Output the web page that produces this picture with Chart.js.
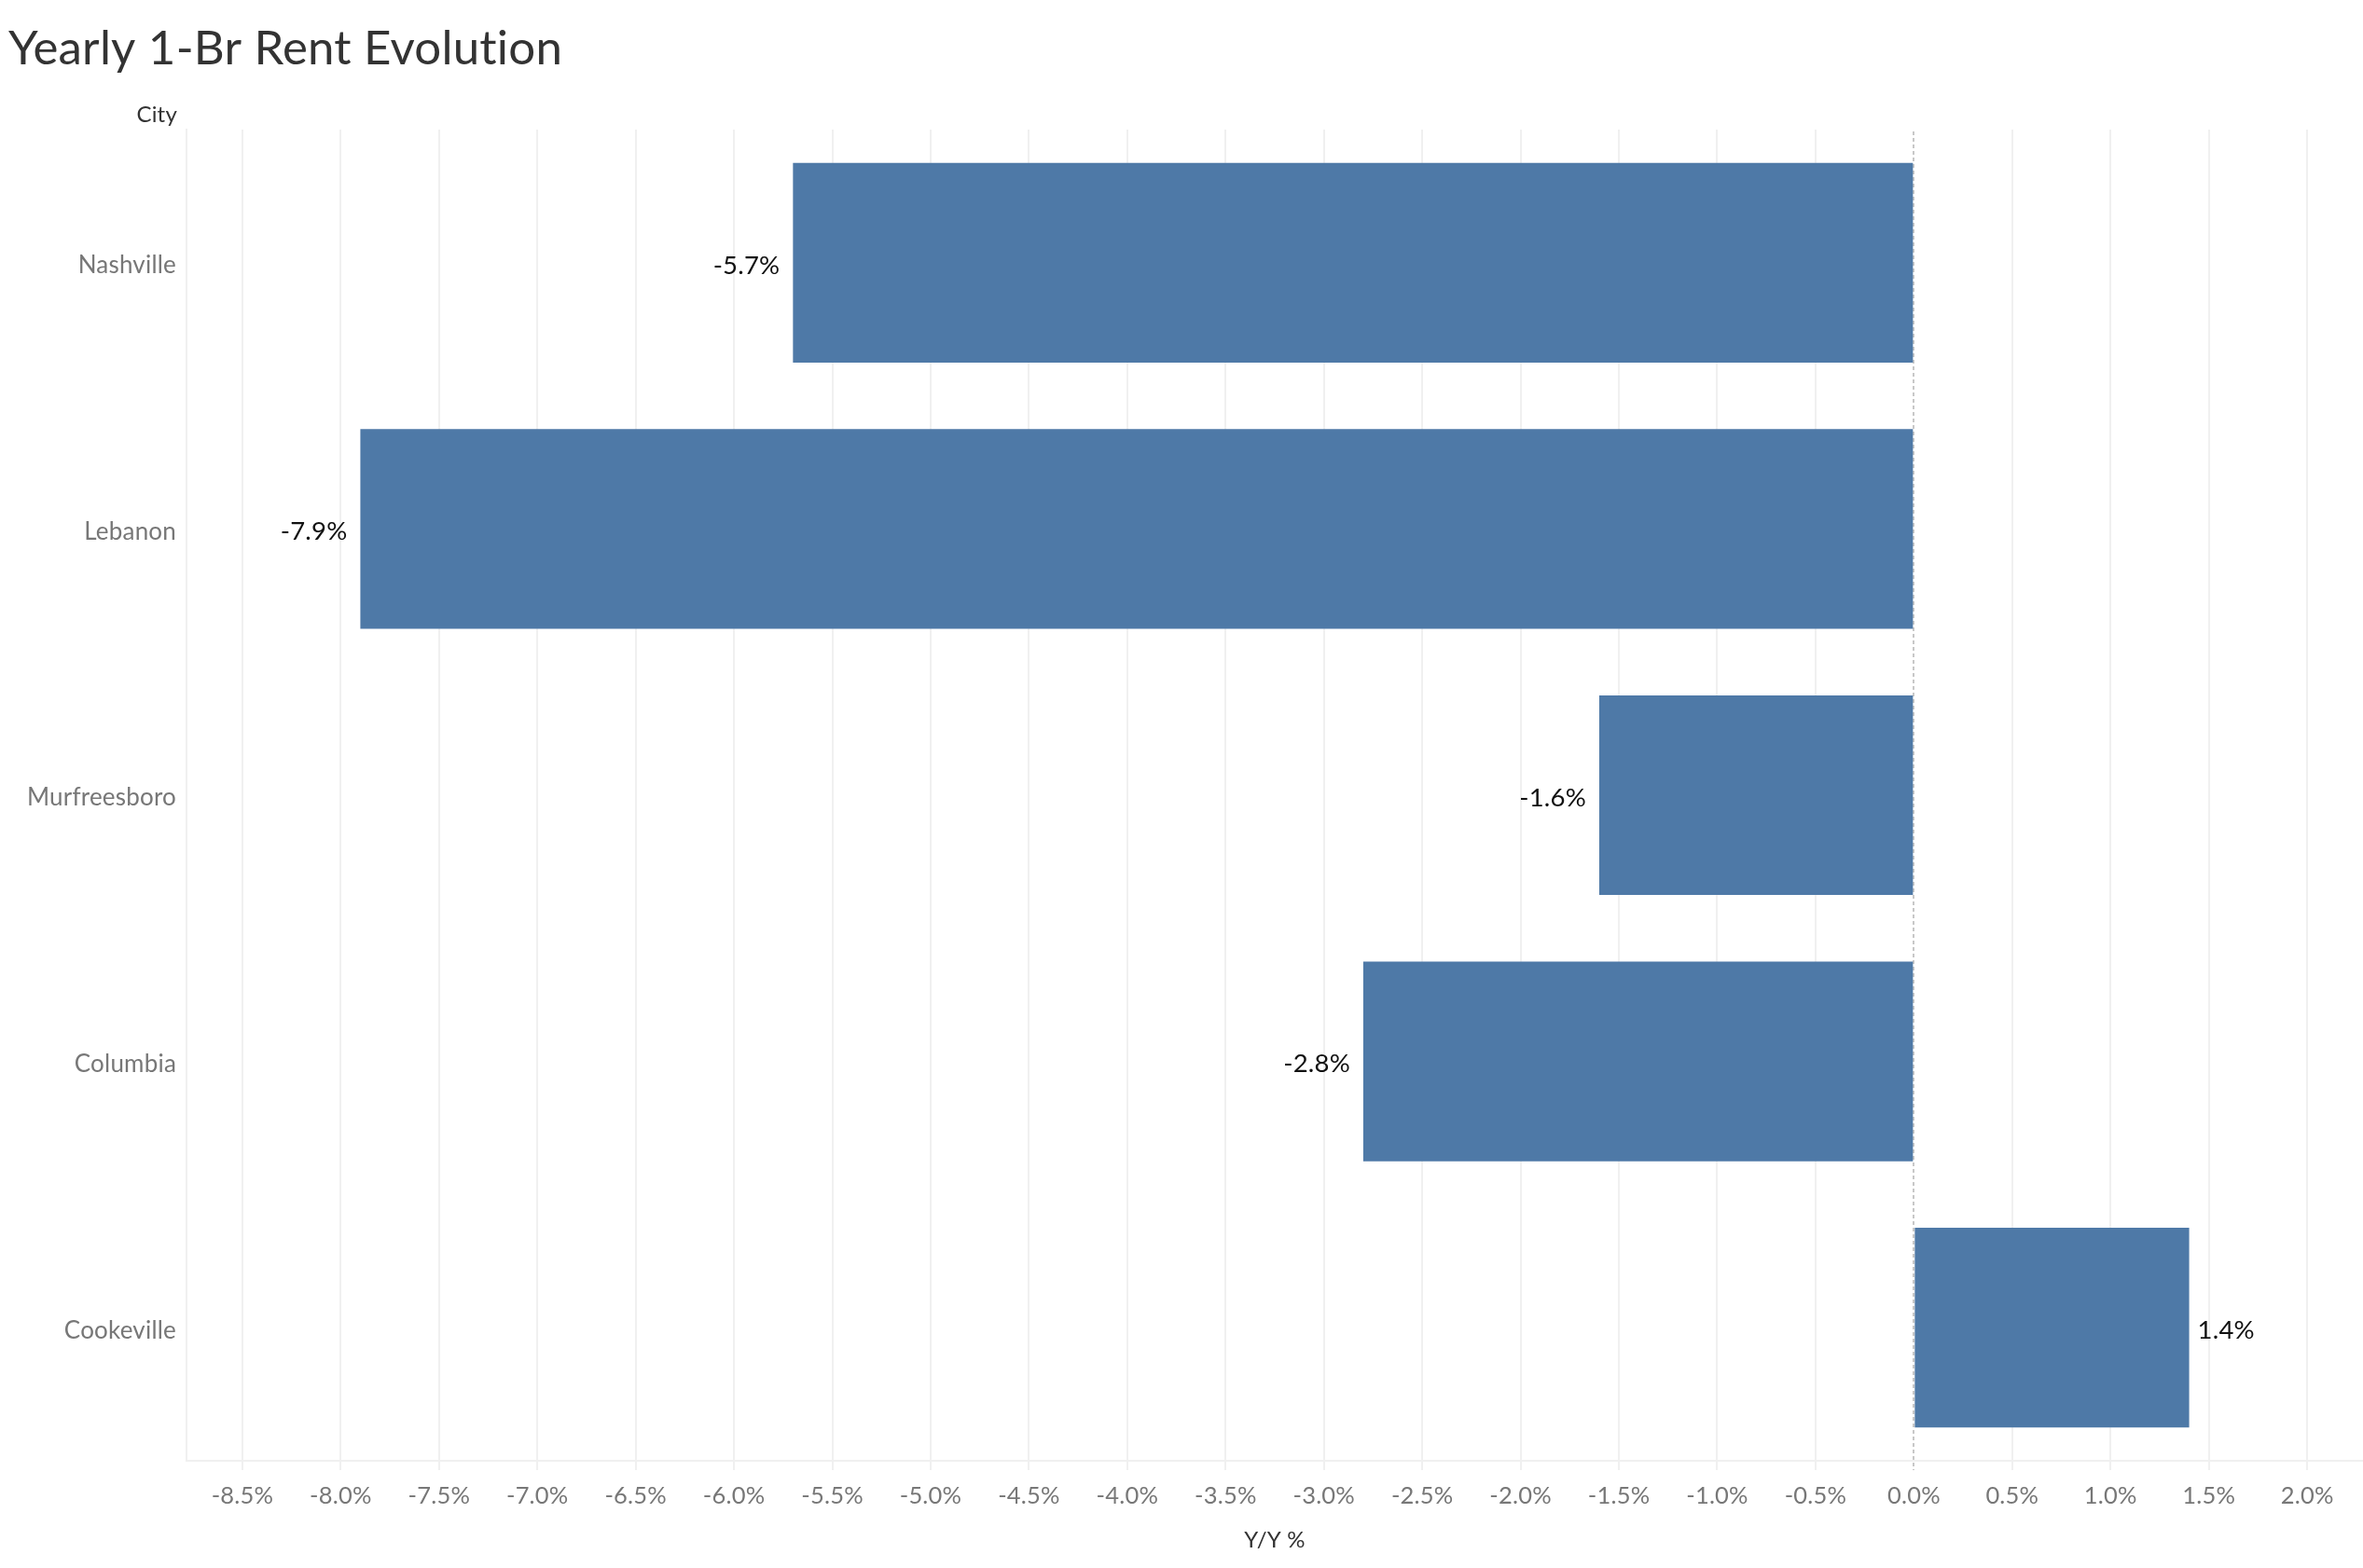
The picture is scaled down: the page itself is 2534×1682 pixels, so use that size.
<!DOCTYPE html>
<html>
<head>
<meta charset="utf-8">
<title>Yearly 1-Br Rent Evolution</title>
<script src="https://cdn.jsdelivr.net/npm/chart.js@4.4.1/dist/chart.umd.min.js"></script>
<style>
  html, body { margin: 0; padding: 0; background: #fff; }
  #wrap { width: 2534px; height: 1682px; }
</style>
</head>
<body>
<div id="wrap"><canvas id="rentChart"></canvas></div>
<script>
'use strict';

// data
var cities = ["Nashville", "Lebanon", "Murfreesboro", "Columbia", "Cookeville"];
var yoyValues = [-5.7, -7.9, -1.6, -2.8, 1.4];
var tickValues = [-8.5, -8.0, -7.5, -7.0, -6.5, -6.0, -5.5, -5.0, -4.5, -4.0, -3.5, -3.0,
                  -2.5, -2.0, -1.5, -1.0, -0.5, 0.0, 0.5, 1.0, 1.5, 2.0];

var FONT = "Lato, 'Noto Sans', sans-serif";
var BAR_COLOR = '#4e79a7';
var GRID_COLOR = '#f0f0f0';

// "City" header, zero line, value labels
var extras = {
  id: 'extras',
  beforeDraw: function(chart) {
    // tiny letter spacing keeps Lato from joining "ti"
    if ('letterSpacing' in chart.ctx) chart.ctx.letterSpacing = '0.2px';
  },
  beforeDatasetsDraw: function(chart) {
    var ctx = chart.ctx, x = chart.scales.x, area = chart.chartArea;
    var px = Math.round(x.getPixelForValue(0));
    ctx.save();
    ctx.strokeStyle = '#c8c8c8';
    ctx.lineWidth = 2;
    ctx.setLineDash([4, 3]);
    ctx.beginPath();
    ctx.moveTo(px, area.top + 2);
    ctx.lineTo(px, area.bottom + 10);
    ctx.stroke();
    ctx.restore();
  },
  afterDraw: function(chart) {
    var ctx = chart.ctx;
    ctx.save();
    ctx.font = '24px ' + FONT;
    ctx.fillStyle = '#333';
    ctx.textAlign = 'right';
    ctx.textBaseline = 'middle';
    ctx.fillText('City', 190, 123);

    // value labels
    ctx.font = '27.5px ' + FONT;
    ctx.fillStyle = '#111';
    var meta = chart.getDatasetMeta(0);
    meta.data.forEach(function(bar, i) {
      var v = yoyValues[i];
      var txt = v.toFixed(1) + '%';
      if (v < 0) {
        ctx.textAlign = 'right';
        ctx.fillText(txt, bar.x - 14, bar.y + 3);
      } else {
        ctx.textAlign = 'left';
        ctx.fillText(txt, bar.x + 9, bar.y + 3);
      }
    });
    ctx.restore();
  }
};

var ctx = document.getElementById('rentChart');
var myChart = new Chart(ctx, {
  type: 'bar',
  data: {
    labels: cities,
    datasets: [{
      label: 'Y/Y %',
      data: yoyValues,
      backgroundColor: BAR_COLOR,
      borderWidth: 0,
      barPercentage: 0.75,
      categoryPercentage: 1.0
    }]
  },
  options: {
    indexAxis: 'y',
    responsive: true,
    maintainAspectRatio: false,
    animation: false,
    layout: {
      padding: { top: 0, left: 9, right: 0, bottom: 0 }
    },
    plugins: {
      legend: { display: false },
      tooltip: { enabled: false },
      title: {
        display: true,
        text: 'Yearly 1-Br Rent Evolution',
        align: 'start',
        color: '#333',
        font: { family: FONT, size: 51, weight: 'normal', lineHeight: 1.2 },
        padding: { top: 22, bottom: 55.8 }
      }
    },
    scales: {
      x: {
        min: -8.784,
        max: 2.284,
        afterBuildTicks: function(scale) {
          scale.ticks = tickValues.map(function(v) { return { value: v }; });
        },
        afterFit: function(scale) {
          scale.height = 115;
        },
        grid: {
          color: function(c) { return c.tick && c.tick.value === 0 ? 'rgba(0,0,0,0)' : GRID_COLOR; },
          tickColor: function(c) { return c.tick && c.tick.value === 0 ? 'rgba(0,0,0,0)' : GRID_COLOR; },
          lineWidth: 2,
          tickLength: 10
        },
        border: { display: true, color: GRID_COLOR, width: 2 },
        ticks: {
          autoSkip: false,
          maxRotation: 0,
          padding: 12,
          color: '#777',
          font: { family: FONT, size: 25.5 },
          callback: function(v) { return Number(v).toFixed(1) + '%'; }
        },
        title: {
          display: true,
          text: 'Y/Y %',
          color: '#333',
          font: { family: FONT, size: 24 },
          padding: { top: 0, bottom: 15 }
        }
      },
      y: {
        afterFit: function(scale) {
          scale.width = 191;
        },
        grid: { display: false, drawTicks: false },
        border: { display: true, color: GRID_COLOR, width: 2 },
        ticks: {
          padding: 11,
          labelOffset: 3,
          color: '#777',
          font: { family: FONT, size: 26 }
        }
      }
    }
  },
  plugins: [extras]
});
</script>
</body>
</html>
